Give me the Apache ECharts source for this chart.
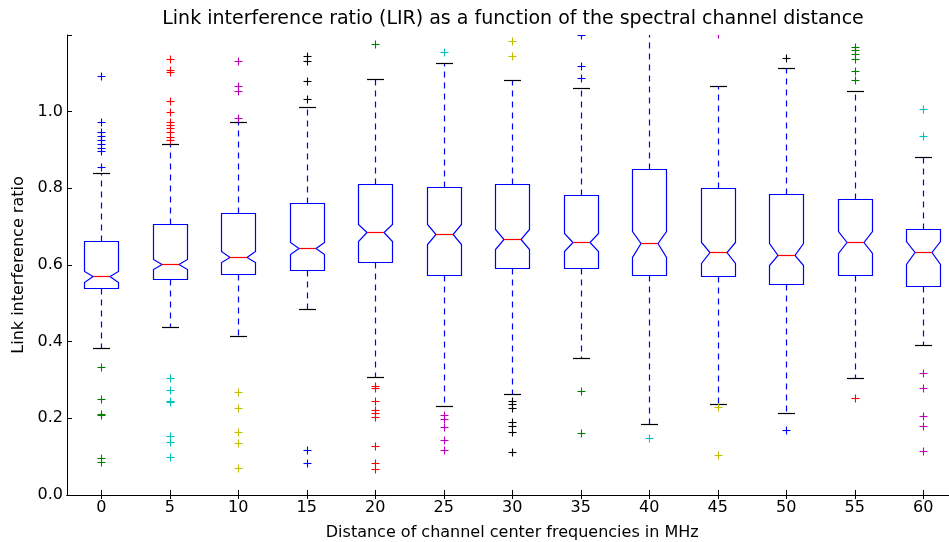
<!DOCTYPE html>
<html>
<head>
<meta charset="utf-8">
<script src="https://cdn.jsdelivr.net/npm/echarts@6/dist/echarts.min.js"></script>
<style>
html,body{margin:0;padding:0;background:#fff;}
#chart{width:949px;height:542px;}
</style>
</head>
<body>
<div id="chart"></div>
<script>
// ---- data ----
const categories = ['0','5','10','15','20','25','30','35','40','45','50','55','60'];
const q1        = [0.541, 0.563, 0.576, 0.586, 0.607, 0.573, 0.591, 0.591, 0.575, 0.572, 0.551, 0.574, 0.545];
const q3        = [0.662, 0.706, 0.735, 0.762, 0.811, 0.804, 0.811, 0.783, 0.851, 0.800, 0.786, 0.771, 0.693];
const median    = [0.571, 0.603, 0.621, 0.644, 0.685, 0.680, 0.668, 0.660, 0.657, 0.633, 0.627, 0.661, 0.633];
const notchLo   = [0.555, 0.590, 0.607, 0.628, 0.663, 0.654, 0.641, 0.637, 0.622, 0.606, 0.600, 0.632, 0.602];
const notchHi   = [0.584, 0.615, 0.636, 0.661, 0.707, 0.706, 0.693, 0.684, 0.690, 0.661, 0.657, 0.690, 0.663];
const whiskerLo = [0.383, 0.437, 0.416, 0.485, 0.307, 0.233, 0.264, 0.358, 0.184, 0.237, 0.214, 0.304, 0.391];
const whiskerHi = [0.841, 0.915, 0.973, 1.012, 1.085, 1.128, 1.083, 1.063, 1.250, 1.066, 1.115, 1.054, 0.883];
const outHigh = [
  [1.093, 0.972, 0.948, 0.937, 0.926, 0.916, 0.905, 0.897, 0.855],
  [1.137, 1.108, 1.103, 1.028, 0.999, 0.974, 0.966, 0.957, 0.946, 0.935, 0.926],
  [1.132, 1.066, 1.055, 0.983],
  [1.145, 1.132, 1.079, 1.032],
  [1.177],
  [1.155],
  [1.185, 1.145],
  [1.201, 1.118, 1.087],
  [],
  [1.203],
  [1.139],
  [1.170, 1.161, 1.150, 1.138, 1.106, 1.083],
  [1.007, 0.937]
];
const outLow = [
  [0.335, 0.251, 0.211, 0.209, 0.097, 0.086],
  [0.304, 0.274, 0.245, 0.242, 0.153, 0.139, 0.100],
  [0.270, 0.227, 0.164, 0.135, 0.071],
  [0.117, 0.083],
  [0.284, 0.278, 0.246, 0.222, 0.213, 0.204, 0.128, 0.083, 0.067],
  [0.210, 0.199, 0.178, 0.144, 0.117],
  [0.246, 0.237, 0.226, 0.191, 0.180, 0.165, 0.112],
  [0.271, 0.163],
  [0.148],
  [0.230, 0.105],
  [0.170],
  [0.254],
  [0.319, 0.279, 0.206, 0.181, 0.115]
];
const yTicks = [0, 0.2, 0.4, 0.6, 0.8, 1.0];

// ---- styles ----
const FONT = 'DejaVu Sans';
const flierPalette = ['#0000ff','#008000','#ff0000','#00bfbf','#bf00bf','#bfbf00','#000000'];

const boxData = categories.map((c, i) => [i, q1[i], q3[i], median[i], notchLo[i], notchHi[i], whiskerLo[i], whiskerHi[i]]);
const flierData = [];
categories.forEach((c, i) => {
  outHigh[i].forEach(v => flierData.push([i, v, (2 * i) % 7]));
  outLow[i].forEach(v => flierData.push([i, v, (2 * i + 1) % 7]));
});

const px = v => Math.round(v) + 0.5;

function renderBox(params, api) {
  const i = api.value(0);
  const bw = api.size([1, 0])[0];
  const hw = bw * 0.25, nw = hw * 0.5;
  const cx = px(api.coord([i, 0])[0]);
  const Y = k => px(api.coord([i, api.value(k)])[1]);
  const yq1 = Y(1), yq3 = Y(2), ym = Y(3), ynl = Y(4), ynh = Y(5), ywl = Y(6), ywh = Y(7);
  const L = Math.round(cx - hw) + 0.5, R = Math.round(cx + hw) - 0.5;
  const nL = Math.round(cx - nw), nR = Math.round(cx + nw);
  const blue = '#0000ff';
  return {
    type: 'group',
    children: [
      { type: 'line', shape: { x1: cx, y1: yq3, x2: cx, y2: ywh },
        style: { stroke: blue, lineWidth: 1.2, lineDash: [6, 5] } },
      { type: 'line', shape: { x1: cx, y1: yq1, x2: cx, y2: ywl },
        style: { stroke: blue, lineWidth: 1.2, lineDash: [6, 5] } },
      { type: 'polygon', shape: { points: [
          [L, yq1], [L, ynl], [nL, ym], [L, ynh], [L, yq3],
          [R, yq3], [R, ynh], [nR, ym], [R, ynl], [R, yq1]
        ] }, style: { stroke: blue, fill: 'none', lineWidth: 1.2 } },
      { type: 'line', shape: { x1: nL, y1: ym, x2: nR, y2: ym },
        style: { stroke: '#ff0000', lineWidth: 1.2 } },
      { type: 'line', shape: { x1: nL, y1: ywh, x2: nR, y2: ywh },
        style: { stroke: '#000000', lineWidth: 1.2 } },
      { type: 'line', shape: { x1: nL, y1: ywl, x2: nR, y2: ywl },
        style: { stroke: '#000000', lineWidth: 1.2 } }
    ]
  };
}

function renderFlier(params, api) {
  const p = api.coord([api.value(0), api.value(1)]);
  const x = px(p[0]), y = px(p[1]);
  const col = flierPalette[api.value(2)];
  const a = 4;
  return {
    type: 'group',
    children: [
      { type: 'line', shape: { x1: x - a, y1: y, x2: x + a, y2: y }, style: { stroke: col, lineWidth: 1.1 } },
      { type: 'line', shape: { x1: x, y1: y - a, x2: x, y2: y + a }, style: { stroke: col, lineWidth: 1.1 } }
    ]
  };
}

const chart = echarts.init(document.getElementById('chart'), null, { renderer: 'canvas' });
const axisLine = { show: true, lineStyle: { color: '#000', width: 1 } };
chart.setOption({
  animation: false,
  backgroundColor: '#fff',
  title: {
    text: 'Link interference ratio (LIR) as a function of the spectral channel distance',
    left: 513, top: 10, padding: 0, textAlign: 'center',
    textStyle: { fontFamily: FONT, fontSize: 19, fontWeight: 'normal', color: '#000' }
  },
  grid: { left: 67, top: 35, width: 890.5, height: 460, containLabel: false, outerBoundsMode: 'none' },
  xAxis: [{
    type: 'category', data: categories, position: 'bottom',
    name: 'Distance of channel center frequencies in MHz',
    nameLocation: 'middle', nameGap: 30,
    nameTextStyle: { fontFamily: FONT, fontSize: 16, color: '#000' },
    axisLine: axisLine,
    axisTick: { show: true, inside: true, alignWithLabel: true, length: 5, lineStyle: { color: '#000' } },
    axisLabel: { fontFamily: FONT, fontSize: 16, color: '#000', margin: 5 },
    splitLine: { show: false }
  }, {
    type: 'category', data: categories, position: 'top',
    axisLine: axisLine,
    axisTick: { show: true, inside: true, alignWithLabel: true, length: 4, lineStyle: { color: '#000' } },
    axisLabel: { show: false },
    splitLine: { show: false }
  }],
  yAxis: [{
    type: 'value', min: 0, max: 1.2, interval: 0.2,
    name: 'Link interference ratio', nameLocation: 'middle', nameGap: 40,
    nameTextStyle: { fontFamily: FONT, fontSize: 16, color: '#000' },
    axisLine: axisLine,
    axisTick: { show: true, inside: true, length: 5, lineStyle: { color: '#000' } },
    axisLabel: {
      fontFamily: FONT, fontSize: 16, color: '#000', margin: 4,
      formatter: v => yTicks.some(t => Math.abs(t - v) < 1e-6) ? v.toFixed(1) : ''
    },
    splitLine: { show: false }
  }, {
    type: 'value', min: 0, max: 1.2, interval: 0.2, position: 'right',
    axisLine: axisLine,
    axisTick: { show: true, inside: true, length: 5 },
    axisLabel: { show: false }, splitLine: { show: false }
  }],
  series: [{
    type: 'custom', name: 'box', xAxisIndex: 0, yAxisIndex: 0, clip: true,
    renderItem: renderBox, data: boxData,
    encode: { x: 0, y: [1, 2, 3, 4, 5, 6, 7] }
  }, {
    type: 'custom', name: 'fliers', xAxisIndex: 0, yAxisIndex: 0, clip: true,
    renderItem: renderFlier, data: flierData,
    encode: { x: 0, y: 1 }
  }]
});
</script>
</body>
</html>
